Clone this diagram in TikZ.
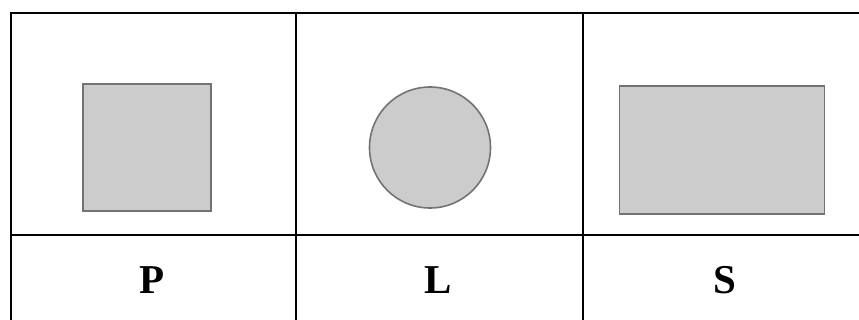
\documentclass[tikz,border=0pt]{standalone}
\usepackage{fontspec}
\setmainfont{Liberation Serif}
\tikzset{
  gridline/.style={line width=2.4pt, black},
  shapebox/.style={draw=black!55, fill=black!20, line width=1.6pt, inner sep=0pt},
  celllabel/.style={font=\fontsize{41}{48}\selectfont\bfseries, inner sep=0pt}
}
\begin{document}
\begin{tikzpicture}[x=1pt,y=-1pt]
    \useasboundingbox (0,0) rectangle (859,320);
    % table lines
    \draw[gridline] (870,13) -- (11,13) -- (11,330);
    \draw[gridline] (11,235) -- (870,235);
    \draw[gridline] (296,13) -- (296,330);
    \draw[gridline] (583,13) -- (583,330);
%    \draw[gridline] (870,13) -- (870,330);

    % shapes
    \node[shapebox, rectangle, minimum width=128pt, minimum height=127pt] (square) at (147,147.5) {};
    \node[shapebox, circle, minimum size=121pt] (disc) at (430,147.5) {};
    \node[shapebox, rectangle, minimum width=205pt, minimum height=128pt] (wide) at (722,150) {};

    % labels
    \node[celllabel] (labP) at (152,280) {P};
    \node[celllabel] (labL) at (438,280) {L};
    \node[celllabel] (labS) at (724.5,280) {S};
\end{tikzpicture}
\end{document}
